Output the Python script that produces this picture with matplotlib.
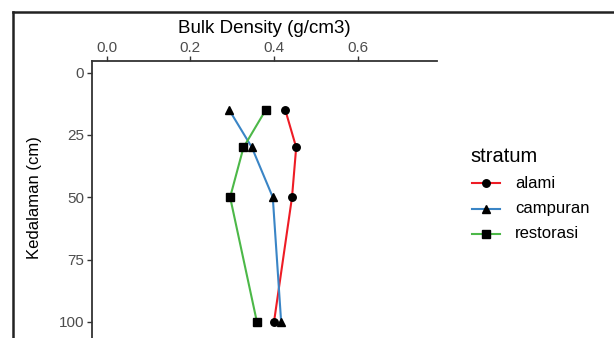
import matplotlib
matplotlib.use("Agg")
from matplotlib import pyplot as plt
from matplotlib.lines import Line2D

#############################################
# Data

depth = [15, 30, 50, 100]
alami = [0.427, 0.453, 0.443, 0.400]
campuran = [0.293, 0.347, 0.397, 0.417]
restorasi = [0.380, 0.327, 0.295, 0.359]

strata = ["alami", "campuran", "restorasi"]
colors = ["#EE1C25", "#3A85C6", "#4CB848"]
markers = ["o", "^", "s"]

x_ticks = [0.0, 0.2, 0.4, 0.6]
y_ticks = [0, 25, 50, 75, 100]

#############################################
# Figure

plt.rcParams['font.family'] = ['Liberation Sans', 'DejaVu Sans']
W, H = 614, 338
fig = plt.figure(figsize=(W / 100, H / 100), dpi=100)

# outer frame (top and left edge of the cropped screenshot)
fig.add_artist(Line2D([13 / W, 1], [1 - 12.3 / H, 1 - 12.3 / H],
                      transform=fig.transFigure, color="#222222", lw=1.8))
fig.add_artist(Line2D([13 / W, 13 / W], [0, 1 - 12.3 / H],
                      transform=fig.transFigure, color="#222222", lw=1.8))

left, right, top = 91.7 / W, 436.7 / W, 1 - 60.7 / H
ax = fig.add_axes([left, 0, right - left, top])

for vals, c, m, lab in zip([alami, campuran, restorasi], colors, markers, strata):
    ax.plot(vals, depth, color=c, lw=1.5, marker=m, markersize=5.4,
            markerfacecolor="black", markeredgecolor="black", label=lab)

ax.set_xlim(-0.036, 0.789)
ax.set_ylim(106.5, -4.8)
ax.set_xticks(x_ticks)
ax.set_xticklabels(["%.1f" % v for v in x_ticks])
ax.set_yticks(y_ticks)
ax.xaxis.tick_top()

for s in ["bottom", "right"]:
    ax.spines[s].set_visible(False)
for s in ["top", "left"]:
    ax.spines[s].set_color("#333333")
    ax.spines[s].set_linewidth(1.3)

ax.tick_params(axis="both", colors="#333333", length=3.5, width=1.0,
               labelcolor="#4d4d4d", labelsize=11, pad=2)
ax.tick_params(axis="x", pad=0.5)

# axis titles
fig.text((left + right) / 2, 1 - 33 / H, "Bulk Density (g/cm3)", fontsize=13.5,
         ha="center", va="baseline")
fig.text(35 / W, 1 - 198 / H, "Kedalaman (cm)", rotation=90,
         ha="center", va="center", fontsize=12,
         family=['Liberation Sans Narrow', 'Liberation Sans'])

#############################################
# Legend

fig.text(470 / W, 1 - 156 / H, "stratum", fontsize=14.5, va="center", ha="left")
for i, (c, m, lab) in enumerate(zip(colors, markers, strata)):
    yy = 1 - (183 + i * 25.5) / H
    fig.add_artist(Line2D([472 / W, 500 / W], [yy, yy], transform=fig.transFigure,
                          color=c, lw=1.5))
    fig.add_artist(Line2D([486 / W], [yy], transform=fig.transFigure,
                          marker=m, markersize=5.4, color="black", lw=0))
    fig.text(515 / W, yy, lab, fontsize=12, va="center", ha="left")

fig.savefig("out.png", dpi=100)
